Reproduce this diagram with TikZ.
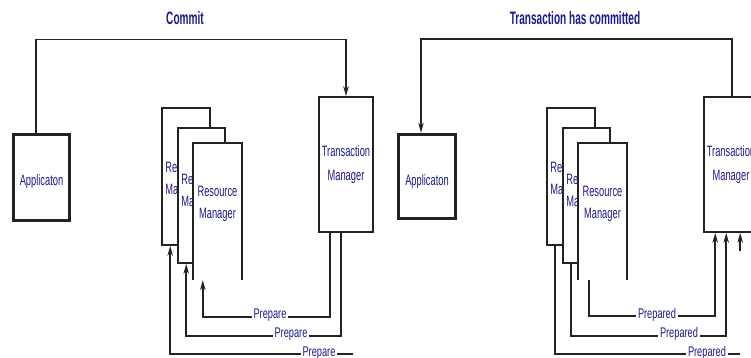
\documentclass[tikz,border=0pt]{standalone}
\usepackage{fontspec}
\setmainfont{Liberation Sans}
\usetikzlibrary{arrows.meta,calc}
\definecolor{ink}{RGB}{35,35,35}
\definecolor{navy}{RGB}{28,28,140}
% narrow, tall lettering
\newcommand{\sq}[1]{\scalebox{0.62}[1]{#1}}
\newcommand{\sqt}[1]{\scalebox{0.56}[1]{#1}}
\newcommand{\sql}[1]{\scalebox{0.66}[1]{#1}}
\tikzset{
  box/.style={draw=ink, fill=white, line width=1.6pt, inner sep=0pt,
    text=navy, font=\fontsize{15}{24}\selectfont, align=center},
  appbox/.style={box, line width=3.5pt},
  rmbox/.style={fill=white, inner sep=0pt},
  rmtext/.style={text=navy, font=\fontsize{15}{22}\selectfont, align=center, inner sep=0pt},
  peek/.style={rmtext, align=left, anchor=west},
  title/.style={text=navy, font=\bfseries\fontsize{18}{20}\selectfont, inner sep=0pt},
  msg/.style={text=navy, font=\fontsize{14}{16}\selectfont, fill=white, inner xsep=2pt, inner ysep=1pt},
  conn/.style={draw=ink, line width=1.5pt},
  arr/.style={conn, -{Stealth[length=10pt,width=5.5pt]}}
}
\begin{document}
\begin{tikzpicture}[x=1pt, y=-1pt]
\useasboundingbox (0,0) rectangle (751,358);
\clip (0,0) rectangle (751,358);

% ---------- left: commit request ----------
\node[title] (tL) at (185,18) {\sqt{Commit}};
\node[appbox, minimum width=56, minimum height=86] (appL) at (41.5,177.5) {};
\node[rmtext] (appLt) at ([yshift=-4.5pt]appL.center) {\sq{Applicaton}};
\node[box, minimum width=54, minimum height=135] (tmL) at (346,164.5) {\sq{Transaction}\\\sq{Manager}};

% stacked resource managers, the front one drawn last
\node[box, minimum width=48, minimum height=137] (rm1L) at (186,176.5) {};
\node[peek] (rm1Lt) at ([xshift=4pt,yshift=-2pt]rm1L.west) {\sq{Re}\\\sq{Ma}};
\node[box, minimum width=47, minimum height=135] (rm2L) at (201.5,195.5) {};
\node[peek] (rm2Lt) at ([xshift=4pt,yshift=5.5pt]rm2L.west) {\sq{Re}\\\sq{Ma}};
\node[rmbox, minimum width=49, minimum height=137] (rm3L) at (217.5,211.5) {};
\draw[draw=ink, line width=1.6pt] (rm3L.south west) -- (rm3L.north west) -- (rm3L.north east) -- (rm3L.south east);
\node[rmtext] (rm3Lt) at ([yshift=7.5pt]rm3L.center) {\sq{Resource}\\\sq{Manager}};

\draw[arr] ([xshift=-5.5pt]appL.north) -- ++(0,-93) -| (tmL.north);

\draw[arr] ([xshift=12pt]tmL.south west) -- ++(0,84) -| ([xshift=10pt]rm3L.south west);
\draw[arr] ([xshift=23pt]tmL.south west) -- ++(0,103) -| ([xshift=9pt]rm2L.south west);
\coordinate (l3L) at (353,354);
\draw[arr] (l3L) -| ([xshift=9pt]rm1L.south west);

\node[msg] (pL1) at (270,315) {\sql{Prepare}};
\node[msg] (pL2) at (291,334) {\sql{Prepare}};
\node[msg] (pL3) at (319,353) {\sql{Prepare}};

% ---------- right: commit outcome ----------
\node[title] (tR) at (575,18) {\sqt{Transaction has committed}};
\node[appbox, minimum width=57, minimum height=84] (appR) at (427,176.5) {};
\node[rmtext] (appRt) at ([yshift=-5pt]appR.center) {\sq{Applicaton}};
\node[box, minimum width=54, minimum height=135] (tmR) at (731,164.5) {\sq{Transaction}\\\sq{Manager}};

\node[box, minimum width=48, minimum height=137] (rm1R) at (571,176.5) {};
\node[peek] (rm1Rt) at ([xshift=4pt,yshift=-2pt]rm1R.west) {\sq{Re}\\\sq{Ma}};
\node[box, minimum width=47, minimum height=135] (rm2R) at (586.5,195.5) {};
\node[peek] (rm2Rt) at ([xshift=4pt,yshift=5.5pt]rm2R.west) {\sq{Re}\\\sq{Ma}};
\node[rmbox, minimum width=49, minimum height=137] (rm3R) at (602.5,211.5) {};
\draw[draw=ink, line width=1.6pt] (rm3R.south west) -- (rm3R.north west) -- (rm3R.north east) -- (rm3R.south east);
\node[rmtext] (rm3Rt) at ([yshift=7.5pt]rm3R.center) {\sq{Resource}\\\sq{Manager}};

\draw[arr] ([xshift=1pt]tmR.north) -- ++(0,-57) -| ([xshift=-6pt]appR.north);

\draw[arr] ([xshift=11pt]rm3R.south west) -- ++(0,36) -| ([xshift=12pt]tmR.south west);
\draw[arr] ([xshift=9pt]rm2R.south west) -- ++(0,72) -| ([xshift=23pt]tmR.south west);
\coordinate (l3R) at (740,354);
\draw[conn] ([xshift=9pt]rm1R.south west) |- (l3R);
\draw[arr] ($(tmR.south west)+(37,18)$) -- ([xshift=37pt]tmR.south west);

\node[msg] (pR1) at (657,315) {\sql{Prepared}};
\node[msg] (pR2) at (679,334) {\sql{Prepared}};
\node[msg] (pR3) at (707,353) {\sql{Prepared}};
\end{tikzpicture}
\end{document}
